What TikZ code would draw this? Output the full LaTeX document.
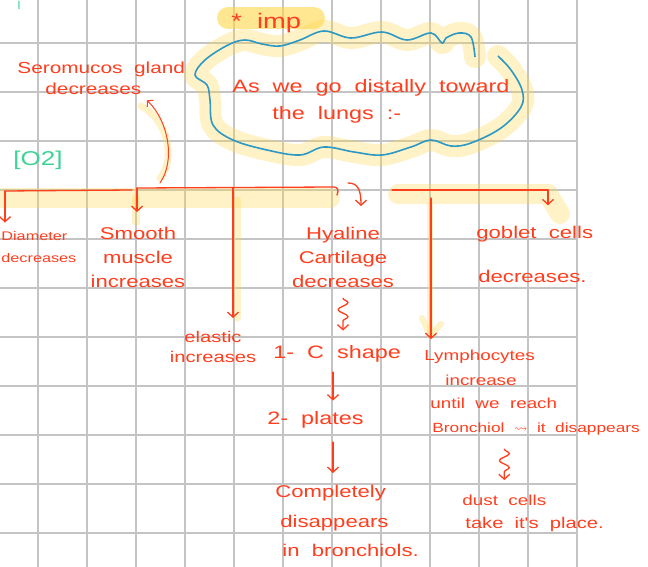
\documentclass[tikz,border=0pt]{standalone}
\usepackage{amssymb}
\usepackage{fontspec}
\setmainfont{Liberation Sans}
\newfontfamily\hand[FakeStretch=1.3,WordSpace=2]{Liberation Sans}
\usetikzlibrary{positioning,arrows.meta,decorations.pathmorphing}
\definecolor{inkred}{RGB}{255,62,30}
\definecolor{inkblue}{RGB}{45,152,196}
\definecolor{inkgreen}{RGB}{60,212,150}
\definecolor{markyellow}{RGB}{255,214,72}
\definecolor{gridgray}{RGB}{196,196,196}
\tikzset{every picture/.style={line width=0.8pt}}

\begin{document}
\begin{tikzpicture}[x=1pt, y=-1pt,
    ink/.style={text=inkred, inner sep=0pt, font=\hand\fontsize{17}{24}\selectfont},
    inksmall/.style={ink, font=\hand\fontsize{14.5}{20}\selectfont},
    inkline/.style={draw=inkred, line width=1.3pt, line cap=round, line join=round},
    inkarrow/.style={inkline, -{Straight Barb[length=5pt,width=11pt]}},
    squiggle/.style={inkarrow, decorate, decoration={snake, amplitude=5pt, segment length=14pt, post length=7pt}},
    marker/.style={draw=markyellow, opacity=0.3, line width=18pt, line cap=round, line join=round},
    gridline/.style={draw=gridgray, line width=1.2pt}]
\useasboundingbox (0,0) rectangle (648,567);
\clip (0,0) rectangle (648,567);
\fill[white] (0,0) rectangle (648,567);

    % Grid paper
\foreach \x in {38,87,...,577} \draw[gridline] (\x,0) -- (\x,567);
\foreach \y in {43,92,...,534} \draw[gridline] (0,\y) -- (578,\y);

    % Highlighter
\draw[marker, opacity=0.6, line width=22pt] (228,18) -- (314,18);
\draw[marker, line width=22pt] plot[smooth, tension=0.6] coordinates {(475,57) (471,37) (459,33) (446,38) (442,43) (431,33) (407,40) (382,32) (351,38) (324,31) (300,40) (280,46) (262,44) (245,40) (228,45) (205,60) (195,75) (207,85) (210,100) (213,125) (233,140) (267,150) (300,155) (324,147) (354,152) (382,155) (411,147) (431,140) (451,146) (471,143) (501,128) (521,107) (522,90) (511,70) (498,56)};
\draw[marker, line width=20pt] (0,198) -- (330,198);
\draw[marker, line width=20pt] (398,194) -- (548,194) -- (560,214);
\draw[marker, line width=8pt] (136,198) -- (136,222);
\draw[marker, line width=7pt] (237,200) -- (237,318);
\draw[marker, line width=6pt] (430,205) -- (430,334);
\draw[marker, line width=6pt] (422,318) -- (430,336) -- (441,324);
\draw[marker, line width=7pt] (160,178) .. controls (176,160) and (168,120) .. (141,106);

    % Cloud
\draw[inkblue, line width=1.6pt] plot[smooth, tension=0.6] coordinates {(475,57) (471,37) (459,33) (446,38) (442,43) (431,33) (407,40) (382,32) (351,38) (324,31) (300,40) (280,46) (262,44) (245,40) (228,45) (205,60) (195,75) (207,85) (210,100) (213,125) (233,140) (267,150) (300,155) (324,147) (354,152) (382,155) (411,147) (431,140) (451,146) (471,143) (501,128) (521,107) (522,90) (511,70) (498,56)};

    % Headings
\node[ink, anchor=base west, font=\hand\fontsize{21}{24}\selectfont] (imp) at (231,29) {* imp};
\node[ink, anchor=base west, font=\hand\fontsize{18}{24}\selectfont] (introA) at (232,93) {As we go distally toward};
\node[ink, anchor=base west, font=\hand\fontsize{18}{24}\selectfont] (introB) at (272,120) {the lungs :-};
\node[anchor=north, inner sep=0pt, text=inkgreen, font=\fontsize{12}{12}\selectfont\rmfamily] (mark) at (19,1) {I};
\node[anchor=base west, inner sep=0pt, text=inkgreen, font=\hand\fontsize{20}{22}\selectfont] (oxy) at (13,165) {[O2]};

    % Branches
\node[inksmall, anchor=base west, font=\hand\fontsize{16}{20}\selectfont] (gland) at (17,74) {Seromucos gland};
\node[inksmall, anchor=base west, font=\hand\fontsize{16}{20}\selectfont] (glandDec) at (45,95) {decreases};
\node[inksmall, anchor=base west, font=\hand\fontsize{12.5}{16}\selectfont] (diamA) at (1,240) {Diameter};
\node[inksmall, anchor=base west, font=\hand\fontsize{12.5}{16}\selectfont] (diamB) at (1,262) {decreases};
\node[ink, anchor=north, align=center] (smooth) at (138,227) {Smooth\\muscle\\increases};
\node[ink, anchor=north, align=center] (hyaline) at (343,227) {Hyaline\\Cartilage\\decreases};
\node[ink, anchor=base west] (goblet) at (476,238) {goblet cells};
\node[ink, anchor=base west] (gobletDec) at (478,282) {decreases.};
\node[inksmall, anchor=north, align=center, font=\hand\fontsize{15.5}{20}\selectfont] (elastic) at (213,331) {elastic\\increases};

    % Cartilage chain
\node[ink, anchor=base west, font=\hand\fontsize{18}{24}\selectfont] (cshape) at (273,358) {1- C shape};
\node[ink, anchor=base west, font=\hand\fontsize{18}{24}\selectfont] (plates) at (267,424) {2- plates};
\node[ink, anchor=north west, align=left, font=\hand\fontsize{17}{29.5}\selectfont] (gone) at (275,485) {Completely\\\hspace*{5pt}disappears\\\hspace*{7pt}in bronchiols.};

    % Lymphocytes chain
\node[inksmall, anchor=base west] (lymA) at (424,360) {Lymphocytes};
\node[inksmall, anchor=base west] (lymB) at (445,385) {increase};
\node[inksmall, anchor=base west] (lymC) at (430,408) {until we reach};
\node[inksmall, anchor=base west, font=\hand\fontsize{13.3}{20}\selectfont] (lymD) at (432,432) {Bronchiol $\rightsquigarrow$ it disappears};
\node[inksmall, anchor=base west] (dustA) at (462,505) {dust cells};
\node[inksmall, anchor=base west, font=\hand\fontsize{15.5}{20}\selectfont] (dustB) at (465,528) {take it's place.};

    % Bracket
\coordinate (brL) at (5,191);
\coordinate (brLend) at (132,190);
\coordinate (brM) at (137,188);
\coordinate (brMend) at (334,187);
\coordinate (brR) at (392,190);
\coordinate (brRend) at (548,190);
\coordinate (hyalTop) at (348,183);
\coordinate (hyalTip) at (361,226);
\coordinate (elasticTop) at (233,188);
\coordinate (lymphTop) at (431,198);
\coordinate (glandStart) at (160,183);
\coordinate (chainX) at (333,0);

    % Connections
\draw[inkline] (brL) -- (brLend);
\draw[inkarrow, shorten >=8pt] (brL) -- (brL |- diamA.north);
\draw[inkline] (brM) -- (brMend) .. controls (338,187) and (339,191) .. (337,195);
\draw[inkarrow, shorten >=15pt] (brM) -- (brM |- smooth.north);
\draw[inkarrow, shorten >=20pt] (hyalTop) .. controls (358,183) and (361,190) .. (hyalTip);
\draw[inkarrow, shorten >=13pt] (elasticTop) -- (elasticTop |- elastic.north);
\draw[inkline] (brR) -- (brRend);
\draw[inkarrow, shorten >=20pt] (brRend) -- (brRend |- goblet.north);
\draw[inkarrow, shorten >=10pt] (lymphTop) -- (lymphTop |- lymA.north);
\draw[inkline, line width=1pt, -{Straight Barb[length=4pt,width=9pt]}, shorten >=7pt] (glandStart) .. controls (176,160) and (168,120) .. (glandDec.south east);

\draw[squiggle] ([yshift=-10pt]hyaline.south) -- ([yshift=14pt]hyaline.south |- cshape.north);
\draw[inkarrow, shorten <=10pt, shorten >=10pt] (cshape.south -| chainX) -- (plates.north -| chainX);
\draw[inkarrow, shorten <=14pt, shorten >=12pt] (plates.south -| chainX) -- (gone.north -| chainX);
\draw[squiggle] ([yshift=-14pt]lymD.south -| dustA.north) -- ([yshift=14pt]dustA.north);
\end{tikzpicture}
\end{document}
